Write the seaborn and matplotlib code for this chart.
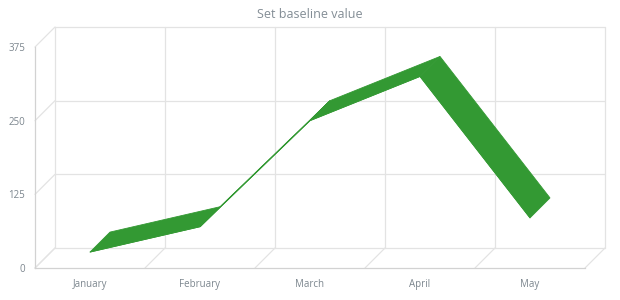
import matplotlib
matplotlib.use("Agg")
import matplotlib.pyplot as plt
import seaborn as sns
import pandas as pd

months = ["January", "February", "March", "April", "May"]
values = [27, 70, 250, 325, 85]
y_ticks = [0, 125, 250, 375]

sns.set_style("white")
plt.rcParams['font.family'] = ['Open Sans', 'DejaVu Sans']

W, H = 620, 300
fig = plt.figure(figsize=(6.2, 3.0), dpi=100)
L, R, B, T = 35, 585, 268, 47
ax = fig.add_axes([L / W, (H - B) / H, (R - L) / W, (B - T) / H])
ax.set_xlim(-0.5, len(months) - 0.5)
ax.set_ylim(0, 375)

# depth offset (20 px right, 20 px up) in data units
ddx = 20 / (R - L) * len(months)
ddy = 20 / (B - T) * 375

grid_c = "#e3e3e3"
axis_c = "#d2d2d2"
lw = 0.9
bounds = [i - 0.5 for i in range(len(months) + 1)]
# back plane
for xb in bounds:
    ax.plot([xb + ddx, xb + ddx], [ddy, 375 + ddy], color=grid_c, lw=lw, clip_on=False, zorder=1)
for yt in y_ticks:
    ax.plot([-0.5 + ddx, bounds[-1] + ddx], [yt + ddy, yt + ddy], color=grid_c, lw=lw, clip_on=False, zorder=1)
    # left wall diagonals
    ax.plot([-0.5, -0.5 + ddx], [yt, yt + ddy], color=grid_c, lw=lw, clip_on=False, zorder=1)
# floor diagonals
for xb in bounds:
    ax.plot([xb, xb + ddx], [0, ddy], color=grid_c, lw=lw, clip_on=False, zorder=1)

# ribbon (top face of 3D area)
green = "#339933"
df = pd.DataFrame({"x": range(len(months)), "y": values})
for i in range(len(values) - 1):
    xs = [i, i + 1, i + 1 + ddx, i + ddx]
    ys = [values[i], values[i + 1], values[i + 1] + ddy, values[i] + ddy]
    ax.fill(xs, ys, color=green, lw=0.6, ec=green, clip_on=False, zorder=3)
sns.lineplot(data=df, x="x", y="y", color=green, lw=0.6, ax=ax, zorder=4)
ax.set_xlabel("")
ax.set_ylabel("")

# axes styling
for s in ["top", "right"]:
    ax.spines[s].set_visible(False)
for s in ["left", "bottom"]:
    ax.spines[s].set_color(axis_c)
    ax.spines[s].set_linewidth(lw)
ax.set_xticks(range(len(months)))
ax.set_xticklabels(months)
ax.set_xticks(bounds, minor=True)
ax.tick_params(axis="x", which="major", length=0, pad=8, labelsize=7, labelcolor="#7c868e")
ax.tick_params(axis="x", which="minor", length=4, color=axis_c, width=lw)
ax.set_yticks(y_ticks)
ax.tick_params(axis="y", length=4, color=axis_c, width=lw, pad=3, labelsize=7, labelcolor="#7c868e")
ax.set_facecolor("none")

fig.text(0.5, 1 - 14 / H, "Set baseline value", ha="center", va="center", fontsize=9, color="#838d95")
fig.savefig("out.png", dpi=100, facecolor="white")
